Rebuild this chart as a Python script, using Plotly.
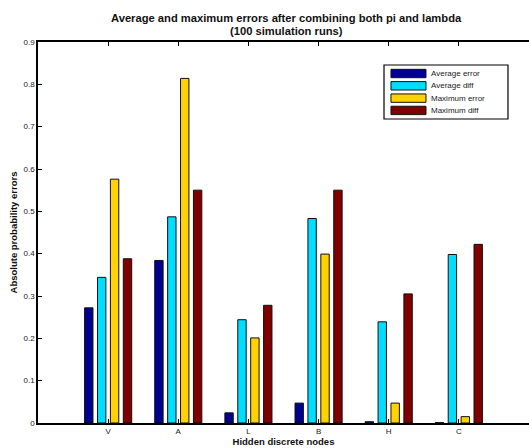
import plotly.graph_objects as go

categories = ["V", "A", "L", "B", "H", "C"]
avg_error = [0.272, 0.384, 0.024, 0.047, 0.003, 0.001]
avg_diff = [0.344, 0.487, 0.244, 0.483, 0.239, 0.398]
max_error = [0.576, 0.814, 0.201, 0.399, 0.047, 0.015]
max_diff = [0.388, 0.550, 0.278, 0.550, 0.305, 0.422]

series = [
    ("Average error", avg_error, "#000090"),
    ("Average diff", avg_diff, "#00DDFF"),
    ("Maximum error", max_error, "#FFD200"),
    ("Maximum diff", max_diff, "#800000"),
]

title_lines = ["Average and maximum errors after combining both pi and lambda",
               "(100 simulation runs)"]

xpos = list(range(1, len(categories) + 1))
font = "Liberation Sans, Arial, Helvetica, sans-serif"

fig = go.Figure()
for name, vals, col in series:
    fig.add_trace(go.Bar(
        x=xpos, y=vals, name=name,
        marker=dict(color=col, line=dict(color="#111111", width=1)),
    ))

# custom compact legend (paper coordinates)
shapes = [dict(type="rect", xref="paper", yref="paper",
               x0=0.7047, x1=0.9572, y0=0.7979, y1=0.9396,
               line=dict(color="black", width=1.2), fillcolor="white", layer="above")]
annotations = []
row_h = 0.0323
for i, (name, vals, col) in enumerate(series):
    ytop = 0.9283 - i * row_h
    shapes.append(dict(type="rect", xref="paper", yref="paper",
                       x0=0.7189, x1=0.7902, y0=ytop - 0.022, y1=ytop,
                       line=dict(color="#111111", width=1), fillcolor=col, layer="above"))
    annotations.append(dict(xref="paper", yref="paper", x=0.7963, y=ytop - 0.011,
                            text=name, showarrow=False, xanchor="left", yanchor="middle",
                            font=dict(size=8, color="#222222")))

# title lines
for j, (line, yy) in enumerate(zip(title_lines, [1.063, 1.029])):
    annotations.append(dict(xref="paper", yref="paper", x=0.507, y=yy,
                            text="<b>" + line + "</b>", showarrow=False,
                            xanchor="center", yanchor="middle",
                            font=dict(size=11.2, color="#111111")))

fig.update_layout(
    width=529, height=448,
    paper_bgcolor="white", plot_bgcolor="white",
    barmode="group", bargap=0.264, bargroupgap=0.35,
    margin=dict(l=38, r=0, t=42, b=25),
    font=dict(family=font, size=8, color="#222222"),
    showlegend=False,
    shapes=shapes,
    annotations=annotations,
)

fig.update_xaxes(
    range=[0, 7], tickmode="array", tickvals=xpos, ticktext=categories,
    showline=True, linecolor="black", linewidth=1.5, mirror="ticks",
    ticks="inside", ticklen=4, tickcolor="black", showgrid=False, zeroline=False,
    title=dict(text="<b>Hidden discrete nodes</b>", font=dict(size=9.5, color="#111111"), standoff=1),
    tickfont=dict(size=8),
)
fig.update_yaxes(
    range=[0, 0.9], tickmode="array",
    tickvals=[0, 0.1, 0.2, 0.3, 0.4, 0.5, 0.6, 0.7, 0.8, 0.9],
    ticktext=["0", "0.1", "0.2", "0.3", "0.4", "0.5", "0.6", "0.7", "0.8", "0.9"],
    showline=True, linecolor="black", linewidth=1.5, mirror=False,
    ticks="inside", ticklen=4, tickcolor="black", showgrid=False, zeroline=False,
    title=dict(text="<b>Absolute probability errors</b>", font=dict(size=9.5, color="#111111"), standoff=4),
    tickfont=dict(size=8),
)

fig.write_html("out.html", config={"displayModeBar": False},
               post_script="document.body.style.margin='0px';")
